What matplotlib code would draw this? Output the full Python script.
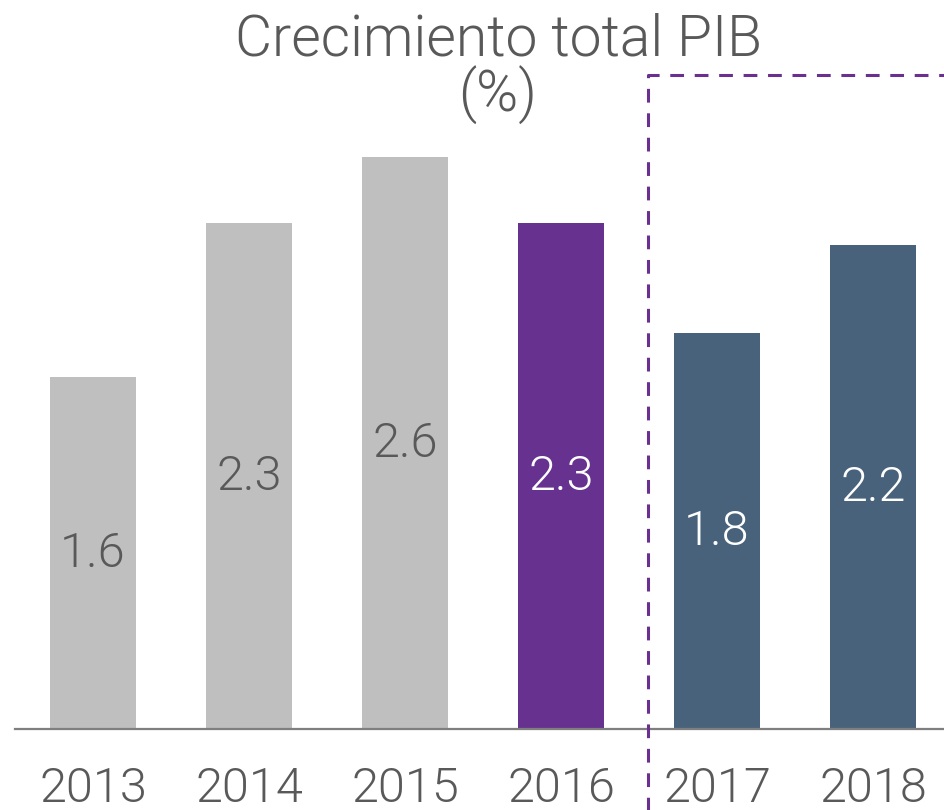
import matplotlib
matplotlib.use("Agg")
import matplotlib.pyplot as plt

# datos del gráfico
years = ["2013", "2014", "2015", "2016", "2017", "2018"]
growth = [1.6, 2.3, 2.6, 2.3, 1.8, 2.2]
bar_colors = ["#BFBFBF", "#BFBFBF", "#BFBFBF", "#66318F", "#48627C", "#48627C"]
label_colors = ["#595959", "#595959", "#595959", "white", "white", "white"]

plt.rcParams["font.family"] = ["Roboto", "DejaVu Sans"]
LIGHT = 300  # Roboto Light

fig = plt.figure(figsize=(9.44, 8.10), dpi=100)
ax = fig.add_axes([0, 0, 1, 1])
ax.set_xlim(-93 / 156, (944 - 93) / 156)
ax.set_ylim(-81 / 220, 729 / 220)
ax.axis("off")

x = list(range(len(years)))
ax.bar(x, growth, width=0.55, color=bar_colors, edgecolor="none", zorder=2)

for xi, v, c in zip(x, growth, label_colors):
    ax.text(xi, v / 2 + 4 / 220, f"{v:.1f}", ha="center", va="center_baseline",
            fontsize=35, color=c, fontweight=LIGHT, zorder=3)

for xi, yr in zip(x, years):
    ax.text(xi, -73 / 220, yr, ha="center", va="baseline",
            fontsize=35, color="#595959", fontweight=LIGHT)

# línea base
ax.plot([-0.5, 6], [0, 0], color="#7F7F7F", linewidth=1.6, zorder=3)

# recuadro de proyección
x_div = (648 - 93) / 156
y_top = (729 - 75) / 220
ax.plot([x_div, x_div, 6], [-1, y_top, y_top], color="#6A2F8F",
        linewidth=2.2, linestyle=(0, (4.5, 3.5)), zorder=4)

fig.text(498 / 944, 1 - 55 / 810, "Crecimiento total PIB", ha="center",
         va="baseline", fontsize=41, color="#595959", fontweight=LIGHT)
fig.text(498 / 944, 1 - 112 / 810, "(%)", ha="center",
         va="baseline", fontsize=41, color="#595959", fontweight=LIGHT)

fig.savefig("out.png", dpi=100)
plt.close(fig)
